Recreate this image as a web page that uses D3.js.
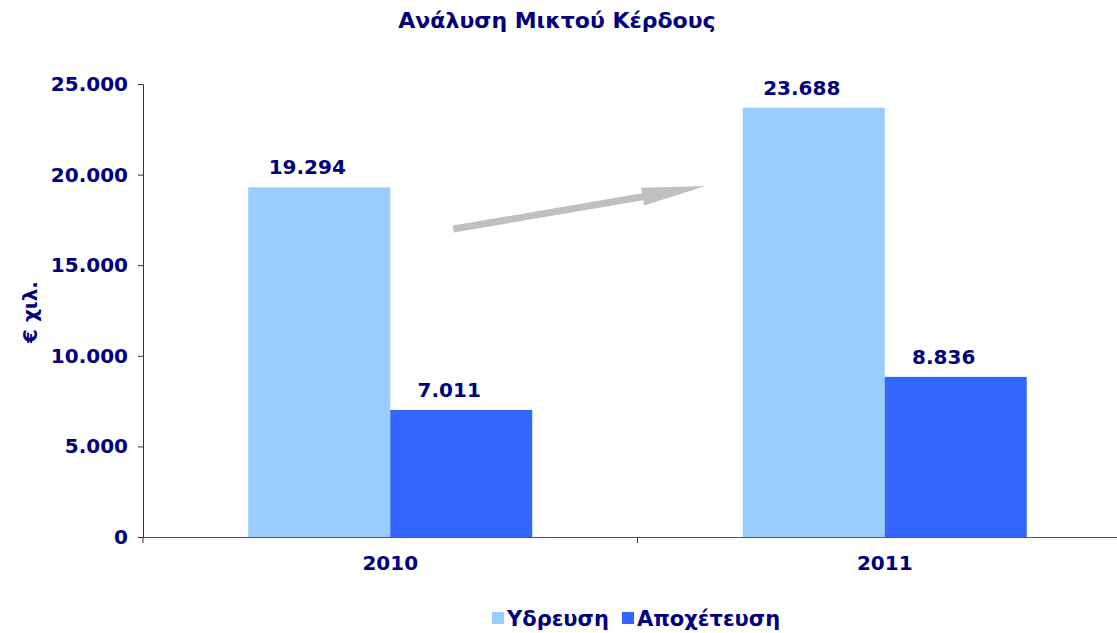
<!DOCTYPE html>
<html>
<head>
<meta charset="utf-8">
<script src="https://cdn.jsdelivr.net/npm/d3@7"></script>
<style>
  body { margin: 0; background: #fff; }
  text { font-family: "DejaVu Sans", Verdana, sans-serif; font-weight: bold; fill: #000080; }
</style>
</head>
<body>
<script>
var years = ["2010", "2011"];
var seriesNames = ["Υδρευση", "Αποχέτευση"];
var ydreusi = [19294, 23688];
var apoxeteusi = [7011, 8836];
var yTicks = [0, 5000, 10000, 15000, 20000, 25000];
var colors = ["#99ccff", "#3366ff"];

var width = 1117, height = 633;
var plotLeft = 143, plotRight = 1132, plotTop = 84, plotBottom = 537;
var fs = "20px";

var locale = d3.formatLocale({ decimal: ",", thousands: ".", grouping: [3], currency: ["€", ""] });
var fmt = locale.format(",d");

var svg = d3.select("body").append("svg")
    .attr("width", width)
    .attr("height", height);

var x = d3.scaleBand().domain(years).range([plotLeft, plotRight]);
var xs = d3.scaleBand().domain(seriesNames).range([-142, 142]);
var y = d3.scaleLinear().domain([0, 25000]).range([plotBottom, plotTop]);

var rows = years.map(function (yr, i) {
    return { year: yr, values: [ydreusi[i], apoxeteusi[i]] };
});

// bars
var groups = svg.selectAll("g.grp")
    .data(rows)
    .enter()
    .append("g")
    .attr("class", "grp")
    .attr("transform", function (d) { return "translate(" + (x(d.year) + x.bandwidth() / 2) + ",0)"; });

groups.selectAll("rect")
    .data(function (d) { return d.values.map(function (v, j) { return { name: seriesNames[j], v: v, j: j }; }); })
    .enter()
    .append("rect")
    .attr("x", function (d) { return xs(d.name); })
    .attr("y", function (d) { return y(d.v); })
    .attr("width", xs.bandwidth())
    .attr("height", function (d) { return plotBottom - y(d.v); })
    .attr("fill", function (d) { return colors[d.j]; });

// value labels (sit a bit left of the bar centre, as in the original)
groups.selectAll("text.val")
    .data(function (d) { return d.values.map(function (v, j) { return { name: seriesNames[j], v: v }; }); })
    .enter()
    .append("text")
    .attr("class", "val")
    .attr("x", function (d) { return xs(d.name) + xs.bandwidth() / 2 - 12; })
    .attr("y", function (d) { return y(d.v) - 13; })
    .attr("text-anchor", "middle")
    .attr("font-size", fs)
    .text(function (d) { return fmt(d.v); });

// y axis
var yAxis = d3.axisLeft(y).tickValues(yTicks).tickSize(5).tickPadding(10).tickFormat(fmt);
var gy = svg.append("g").attr("transform", "translate(" + plotLeft + ",0)").call(yAxis);
gy.select(".domain").attr("stroke", "#333");
gy.selectAll(".tick line").attr("stroke", "#333");
gy.selectAll(".tick text").attr("font-size", fs).attr("fill", "#000080")
    .attr("font-family", "DejaVu Sans, Verdana, sans-serif").attr("font-weight", "bold");

// x axis
var xAxis = d3.axisBottom(x).tickSize(0).tickPadding(19);
var gx = svg.append("g").attr("transform", "translate(0," + plotBottom + ")").call(xAxis);
gx.select(".domain").attr("stroke", "#555");
gx.selectAll(".tick text").attr("font-size", fs).attr("fill", "#000080")
    .attr("font-family", "DejaVu Sans, Verdana, sans-serif").attr("font-weight", "bold");
// category separators
gx.selectAll("line.sep")
    .data(years)
    .enter()
    .append("line")
    .attr("class", "sep")
    .attr("x1", function (d) { return x(d); })
    .attr("x2", function (d) { return x(d); })
    .attr("y1", 0).attr("y2", 6)
    .attr("stroke", "#333");

// title
svg.append("text")
    .attr("x", 557).attr("y", 28)
    .attr("text-anchor", "middle")
    .attr("font-size", "22px")
    .text("Ανάλυση Μικτού Κέρδους");

// y label
svg.append("text")
    .attr("transform", "translate(37,312) rotate(-90)")
    .attr("text-anchor", "middle")
    .attr("font-size", fs)
    .text("€ χιλ.");

// trend arrow between the groups
var ax0 = x("2010") + x.bandwidth() / 2 + 63, ay0 = 229;
var ax1 = x("2011") + x.bandwidth() / 2 - 179, ay1 = 186;
var ang = Math.atan2(ay1 - ay0, ax1 - ax0);
var len = Math.hypot(ax1 - ax0, ay1 - ay0);
var headLen = 64, headW = 9, shaftW = 3.5;
var pts = [[0, -shaftW], [len - headLen, -shaftW], [len - headLen, -headW], [len, 0],
           [len - headLen, headW], [len - headLen, shaftW], [0, shaftW]];
svg.append("polygon")
    .attr("points", pts.map(function (p) { return p.join(","); }).join(" "))
    .attr("transform", "translate(" + ax0 + "," + ay0 + ") rotate(" + (ang * 180 / Math.PI) + ")")
    .attr("fill", "#c0c0c0");

// legend
var legend = svg.append("g").attr("transform", "translate(492,626)");
var legX = [0, 130];
seriesNames.forEach(function (n, i) {
    legend.append("rect").attr("x", legX[i]).attr("y", -14).attr("width", 12).attr("height", 12).attr("fill", colors[i]);
    legend.append("text").attr("x", legX[i] + 15).attr("y", 0).attr("font-size", "21px").text(n);
});
</script>
</body>
</html>
